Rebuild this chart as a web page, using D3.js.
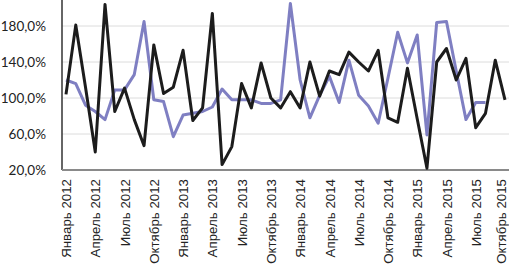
<!DOCTYPE html>
<html>
<head>
<meta charset="utf-8">
<script src="https://cdn.jsdelivr.net/npm/d3@7"></script>
<style>
  body { margin: 0; background: #fff; }
  svg { display: block; }
</style>
</head>
<body>
<script>
// Data
var monthNames = ["Январь","Февраль","Март","Апрель","Май","Июнь","Июль","Август","Сентябрь","Октябрь","Ноябрь","Декабрь"];
var years = [2012, 2013, 2014, 2015];
var monthCount = 46; // Январь 2012 .. Октябрь 2015

var blackValues = [104,181,112,40,204,85,111,76,47,159,105,112,153,75,89,194,26,46,116,89,139,100,89,107,
                   89,140,102,130,126,151,140,130,153,78,73,133,77,22,140,155,120,144,67,83,142,98];
var purpleValues = [120,116,92,85,76,109,109,126,185,98,96,57,81,83,85,90,110,98,98,98,94,94,98,205,
                    120,78,103,124,95,142,103,91,72,122,173,139,170,59,184,185,130,76,95,95];
var yTicks = [20, 60, 100, 140, 180];

var months = [];
years.forEach(function(y) {
  monthNames.forEach(function(m) { months.push(m + " " + y); });
});
months = months.slice(0, monthCount);
var tickLabels = months.filter(function(d, i) { return i % 3 == 0; });

var w = 509, h = 272;

var svg = d3.select("body").append("svg")
  .attr("width", w)
  .attr("height", h);

//Scales
var x = d3.scalePoint()
  .domain(months)
  .range([66, 505]);
var y = d3.scaleLinear()
  .domain([20, 220])
  .range([170, -10]);

//Grid lines
svg.append("g")
  .selectAll("line")
  .data(yTicks.slice(1))
  .enter()
  .append("line")
    .attr("x1", 62)
    .attr("x2", w)
    .attr("y1", (d) => y(d))
    .attr("y2", (d) => y(d))
    .attr("stroke", "#dcdcdc")
    .attr("stroke-width", 1);

//Y axis
var yAxis = svg.append("g")
  .attr("transform", "translate(62,0)")
  .call(d3.axisLeft(y).tickValues(yTicks).tickSize(0).tickPadding(16)
    .tickFormat((d) => d.toFixed(1).replace(".", ",") + "%"));
yAxis.select(".domain").remove();
yAxis.selectAll("text")
  .attr("font-family", "Lato, 'Open Sans', sans-serif")
  .attr("font-size", "13.5px")
  .attr("fill", "#222");

svg.append("line")
  .attr("x1", 62).attr("x2", 62)
  .attr("y1", 0).attr("y2", 170)
  .attr("stroke", "#333")
  .attr("stroke-width", 1.5);

//X axis
var xAxis = svg.append("g")
  .attr("transform", "translate(0,170)")
  .call(d3.axisBottom(x).tickValues(tickLabels).tickSize(0));
xAxis.select(".domain").remove();
xAxis.selectAll("text")
  .attr("font-family", "'Liberation Sans', Arial, sans-serif")
  .attr("font-size", "13.3px")
  .attr("fill", "#222")
  .attr("text-anchor", "end")
  .attr("transform", "rotate(-90)")
  .attr("x", -9)
  // last label sits on the right edge, pull it in a little
  .attr("y", (d, i) => i == tickLabels.length - 1 ? -4 : 0)
  .attr("dy", "0.35em");

svg.append("line")
  .attr("x1", 62).attr("x2", w)
  .attr("y1", 170).attr("y2", 170)
  .attr("stroke", "#8a8a8a")
  .attr("stroke-width", 2);

//Lines
var line = d3.line()
  .x((d, i) => x(months[i]))
  .y((d) => y(d));

svg.append("path")
  .datum(purpleValues)
  .attr("d", line)
  .attr("fill", "none")
  .attr("stroke", "#7f7fc2")
  .attr("stroke-width", 3)
  .attr("stroke-linejoin", "round");

svg.append("path")
  .datum(blackValues)
  .attr("d", line)
  .attr("fill", "none")
  .attr("stroke", "#1c1c1c")
  .attr("stroke-width", 3)
  .attr("stroke-linejoin", "round");
</script>
</body>
</html>
